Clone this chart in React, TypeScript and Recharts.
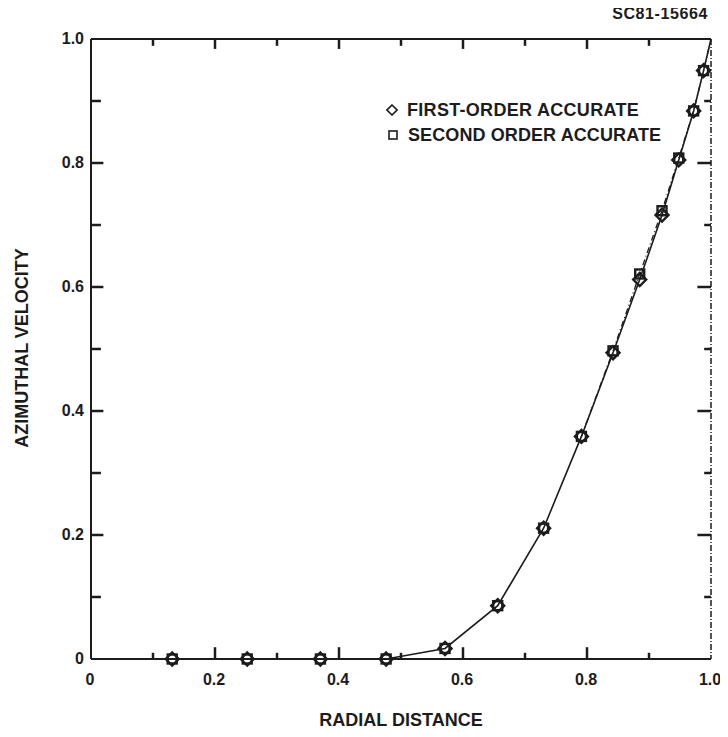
import React from 'react';
import { ComposedChart, Line, Scatter, XAxis, YAxis, ReferenceLine } from 'recharts';

const radialDistance = [0.131, 0.252, 0.370, 0.476, 0.571, 0.656, 0.730, 0.791, 0.842, 0.885, 0.921, 0.948, 0.972, 0.988];
const firstOrderVelocity = [0, 0, 0, 0, 0.017, 0.086, 0.211, 0.359, 0.494, 0.612, 0.716, 0.805, 0.884, 0.949];
const secondOrderVelocity = [0, 0, 0, 0, 0.017, 0.086, 0.211, 0.359, 0.497, 0.621, 0.723, 0.808, 0.884, 0.949];
// curve runs on to the wall at r = 1
const wallRadial = 1.0;
const wallVelocity = 1.0;

const majorTicks = [0, 0.2, 0.4, 0.6, 0.8, 1.0];
const minorTicks = [0.1, 0.3, 0.5, 0.7, 0.9];

const firstData = radialDistance.map((x, i) => ({ x, y: firstOrderVelocity[i] }));
const secondData = radialDistance.map((x, i) => ({ x, y: secondOrderVelocity[i] }));
const lineData = [...firstData, { x: wallRadial, y: wallVelocity }];
const secondLine = [...secondData.slice(7), { x: wallRadial, y: wallVelocity }];

const INK = '#1c1c1c';
const FONT = '"Liberation Sans", Arial, sans-serif';

const fmt = (v: number) => (v === 0 ? '0' : v.toFixed(1));

// inward tick lengths [major, minor], in axis units (1 unit ~ 620px)
const inward = {
    bottom: [0.019, 0.01],
    top: [0.016, 0.011],
    left: [0.02, 0.016],
    right: [0.022, 0.011],
};

const BottomLabel = (p: any) => (
    <text x={p.x - 1} y={p.y + 26} textAnchor="middle" fill={INK} fontSize={16} fontWeight="bold" fontFamily={FONT}>
        {fmt(p.payload.value)}
    </text>
);

const LeftLabel = (p: any) => (
    <text x={p.x - 7} y={p.y + 5} textAnchor="end" fill={INK} fontSize={16} fontWeight="bold" fontFamily={FONT}>
        {fmt(p.payload.value)}
    </text>
);

const Diamond = (props: any) => {
    const { cx, cy } = props;
    const r = 6.5;
    return (
        <path
            d={`M${cx},${cy - r} L${cx + r},${cy} L${cx},${cy + r} L${cx - r},${cy} Z`}
            fill="none"
            stroke={INK}
            strokeWidth={2.4}
        />
    );
};

const Square = (props: any) => {
    const { cx, cy } = props;
    const h = 4.5;
    return <rect x={cx - h} y={cy - h} width={h * 2} height={h * 2} fill="none" stroke={INK} strokeWidth={2.4} />;
};

const label: React.CSSProperties = {
    position: 'absolute',
    fontFamily: FONT,
    fontWeight: 'bold',
    color: INK,
    whiteSpace: 'nowrap',
};

const solid = { stroke: INK, strokeWidth: 2 };

function tickSegments() {
    const segs: { key: string; segment: { x: number; y: number }[] }[] = [];
    [majorTicks, minorTicks].forEach((list, k) => {
        list.forEach((v) => {
            if (v > 0 && v < 1) {
                segs.push({ key: `b${k}${v}`, segment: [{ x: v, y: 0 }, { x: v, y: inward.bottom[k] }] });
                segs.push({ key: `t${k}${v}`, segment: [{ x: v, y: 1 }, { x: v, y: 1 - inward.top[k] }] });
                segs.push({ key: `l${k}${v}`, segment: [{ x: 0, y: v }, { x: inward.left[k], y: v }] });
                segs.push({ key: `r${k}${v}`, segment: [{ x: 1, y: v }, { x: 1 - inward.right[k], y: v }] });
            }
        });
    });
    return segs;
}

export default function App() {
    return (
        <div style={{ position: 'relative', width: 720, height: 720, background: '#fff' }}>
            <ComposedChart width={720} height={720} margin={{ top: 30, right: 16, left: 82, bottom: 68 }}>
                <XAxis xAxisId="b" dataKey="x" type="number" domain={[0, 1]} ticks={majorTicks} height={1}
                    tickSize={0} tickMargin={0} tickLine={false} axisLine={solid} tick={BottomLabel} />
                <XAxis xAxisId="t" orientation="top" dataKey="x" type="number" domain={[0, 1]} height={1}
                    tick={false} tickLine={false} axisLine={solid} />
                <YAxis yAxisId="l" dataKey="y" type="number" domain={[0, 1]} ticks={majorTicks} width={1}
                    tickSize={0} tickMargin={0} tickLine={false} axisLine={solid} tick={LeftLabel} />
                <YAxis yAxisId="r" orientation="right" type="number" domain={[0, 1]} width={1}
                    tick={false} tickLine={false}
                    axisLine={{ stroke: INK, strokeWidth: 1.5, strokeDasharray: '6 2 1 2' }} />

                {tickSegments().map((s) => (
                    <ReferenceLine
                        key={s.key}
                        xAxisId="b"
                        yAxisId="l"
                        segment={s.segment}
                        stroke={INK}
                        strokeWidth={2.5}
                        ifOverflow="visible"
                    />
                ))}

                <Line
                    xAxisId="b"
                    yAxisId="l"
                    data={lineData}
                    dataKey="y"
                    type="linear"
                    stroke={INK}
                    strokeWidth={1.6}
                    dot={false}
                    activeDot={false}
                    isAnimationActive={false}
                />
                <Line
                    xAxisId="b"
                    yAxisId="l"
                    data={secondLine}
                    dataKey="y"
                    type="linear"
                    stroke={INK}
                    strokeWidth={1.3}
                    strokeDasharray="6 3 1 3"
                    dot={false}
                    activeDot={false}
                    isAnimationActive={false}
                />
                <Scatter xAxisId="b" yAxisId="l" data={secondData} dataKey="y" shape={Square} isAnimationActive={false} />
                <Scatter xAxisId="b" yAxisId="l" data={firstData} dataKey="y" shape={Diamond} isAnimationActive={false} />
            </ComposedChart>

            <div style={{ ...label, right: 20, top: -3, fontSize: 16, letterSpacing: 0.6 }}>SC81-15664</div>

            <svg style={{ position: 'absolute', left: 378, top: 96 }} width={12} height={12}>
                <path d="M6,1 L11,6 L6,11 L1,6 Z" fill="none" stroke={INK} strokeWidth={1.6} />
            </svg>
            <div style={{ ...label, left: 399, top: 92, fontSize: 18, letterSpacing: 0.3 }}>FIRST-ORDER ACCURATE</div>
            <svg style={{ position: 'absolute', left: 379, top: 121 }} width={12} height={12}>
                <rect x={2} y={2} width={8} height={8} fill="none" stroke={INK} strokeWidth={1.6} />
            </svg>
            <div style={{ ...label, left: 400, top: 117, fontSize: 18, letterSpacing: 0.1 }}>SECOND ORDER ACCURATE</div>

            <div
                style={{
                    ...label,
                    left: 14,
                    top: 340,
                    fontSize: 18,
                    transform: 'translate(-50%, -50%) rotate(-90deg)',
                }}
            >
                AZIMUTHAL VELOCITY
            </div>
            <div
                style={{
                    ...label,
                    left: 393,
                    top: 712,
                    fontSize: 18,
                    transform: 'translate(-50%, -50%)',
                }}
            >
                RADIAL DISTANCE
            </div>
        </div>
    );
}
